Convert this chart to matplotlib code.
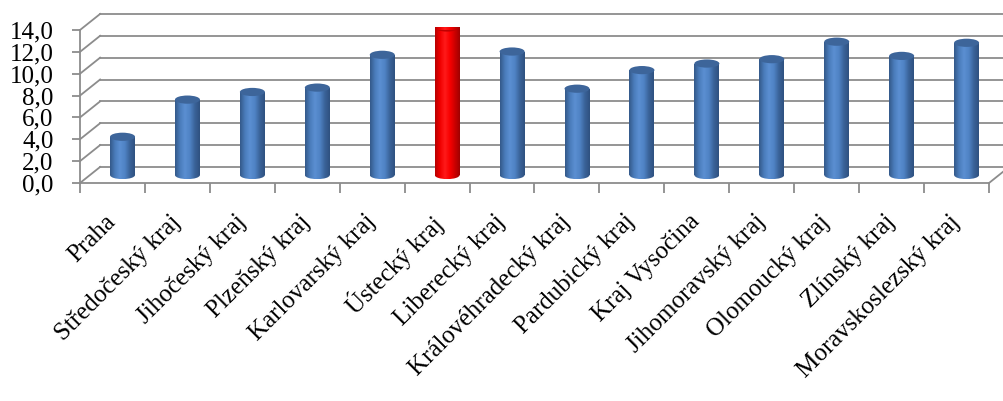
import numpy as np
import matplotlib
matplotlib.use("Agg")
import matplotlib.pyplot as plt
from matplotlib.patches import Ellipse, Rectangle
from matplotlib.colors import LinearSegmentedColormap

kraje = ["Praha", "Středočeský kraj", "Jihočeský kraj", "Plzeňský kraj",
         "Karlovarský kraj", "Ústecký kraj", "Liberecký kraj",
         "Královéhradecký kraj", "Pardubický kraj", "Kraj Vysočina",
         "Jihomoravský kraj", "Olomoucký kraj", "Zlínský kraj",
         "Moravskoslezský kraj"]
hodnoty = [3.5, 6.9, 7.6, 8.0, 11.0, 13.5, 11.3, 7.9, 9.6, 10.2, 10.6, 12.2, 10.9, 12.1]
zvyraznit = "Ústecký kraj"
y_ticks = [0, 2, 4, 6, 8, 10, 12, 14]

plt.rcParams['font.family'] = ['Liberation Serif', 'DejaVu Serif']

blue_cm = LinearSegmentedColormap.from_list("b", ["#34598a", "#4a7cbb", "#5b8fd2", "#4f83c4", "#3a6399", "#2f5180"])
red_cm = LinearSegmentedColormap.from_list("r", ["#b80000", "#f00000", "#ff1a1a", "#f80000", "#cc0000", "#a00000"])
blue_top = "#3d659a"
red_top = "#c00000"
grid_c = "#8c8c8c"

fig = plt.figure(figsize=(10.04, 4.01), dpi=100)
ax = fig.add_axes([80 / 1004, 218 / 401, 909 / 1004, 153 / 401])

# depth offsets (back wall and middle of the floor)
dx_back, dy_back = 0.31, 1.47
dx_mid, dy_mid = 0.155, 0.73
n = len(kraje)
x0, x1 = -0.5, n - 0.5

# back wall grid + left side wall diagonals
for v in y_ticks:
    ax.plot([x0 + dx_back, x1 + dx_back + 0.5], [v + dy_back, v + dy_back], color=grid_c, lw=1.3, clip_on=False, zorder=1)
    ax.plot([x0, x0 + dx_back], [v, v + dy_back], color=grid_c, lw=1.3, clip_on=False, zorder=1)
# floor right diagonal
ax.plot([x1, x1 + dx_back], [0, dy_back], color=grid_c, lw=1.3, clip_on=False, zorder=1)

w = 0.385
eh = 0.75
grad = np.linspace(0, 1, 64).reshape(1, -1)
for i, (k, v) in enumerate(zip(kraje, hodnoty)):
    cx = i + dx_mid
    cm = red_cm if k == zvyraznit else blue_cm
    topc = red_top if k == zvyraznit else blue_top
    base = dy_mid
    top = v + dy_mid
    rect = Rectangle((cx - w / 2, base), w, top - base, facecolor="none", edgecolor="none")
    ax.add_patch(rect)
    im = ax.imshow(grad, cmap=cm, aspect="auto", extent=(cx - w / 2, cx + w / 2, base, top), zorder=3)
    im.set_clip_path(rect)
    bot = Ellipse((cx, base), w, eh, facecolor="none", edgecolor="none")
    ax.add_patch(bot)
    im2 = ax.imshow(grad, cmap=cm, aspect="auto", extent=(cx - w / 2, cx + w / 2, base - eh / 2, base), zorder=3)
    im2.set_clip_path(bot)
    ax.add_patch(Ellipse((cx, top), w, eh, facecolor=topc, edgecolor="none", zorder=4))

ax.set_xlim(x0, x1)
ax.set_ylim(0, 14)

for s in ["top", "right"]:
    ax.spines[s].set_visible(False)
for s in ["left", "bottom"]:
    ax.spines[s].set_color(grid_c)
    ax.spines[s].set_linewidth(1.3)

ax.set_yticks(y_ticks)
ax.set_yticklabels([f"{t:.1f}".replace(".", ",") for t in y_ticks], fontsize=18)
ax.tick_params(axis="y", length=6, color=grid_c, width=1.3, pad=13)

ax.set_xticks(np.arange(n + 1) - 0.5)
ax.set_xticklabels([])
ax.tick_params(axis="x", length=7, color=grid_c, width=1.3)
for i, k in enumerate(kraje):
    ax.annotate(k, xy=(i - 0.12, 0), xycoords="data", xytext=(0, -20), textcoords="offset points",
                rotation=45, ha="right", va="top", rotation_mode="anchor", fontsize=18)

fig.savefig("out.png", dpi=100)
